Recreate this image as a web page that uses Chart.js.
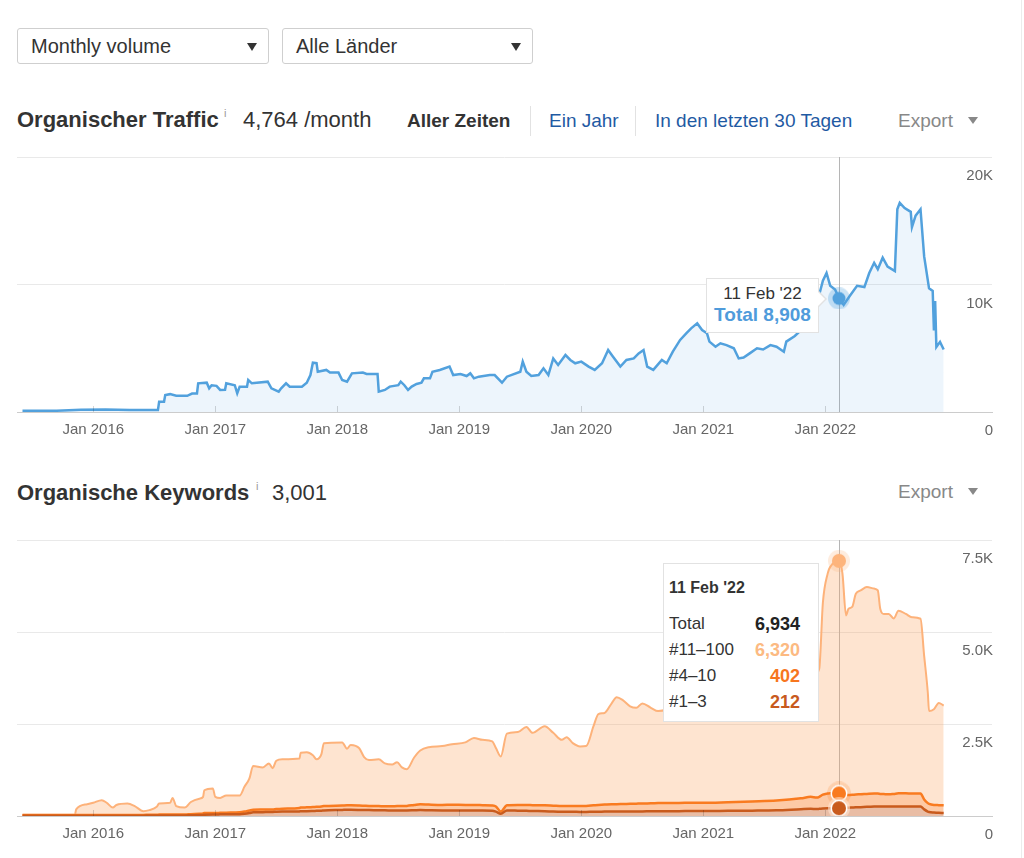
<!DOCTYPE html>
<html lang="de">
<head>
<meta charset="utf-8">
<title>Organischer Traffic / Organische Keywords</title>
<script src="https://cdn.jsdelivr.net/npm/chart.js@4.4.1/dist/chart.umd.min.js"></script>
<style>
	body { margin: 0; background: #fff; font-family: "Liberation Sans", Arial, Helvetica, sans-serif; color: #333; }
	#page { position: relative; width: 1024px; height: 858px; overflow: hidden; background: #fff; }
	.abs { position: absolute; white-space: nowrap; }
	.dd { position: absolute; top: 28px; height: 36px; box-sizing: border-box; border: 1px solid #cfcfcf; border-radius: 3px;
		font-size: 20px; line-height: 35px; padding-left: 13px; color: #333; }
	.dd .arr { position: absolute; right: 11px; top: 14px; width: 0; height: 0;
		border-left: 5.5px solid transparent; border-right: 5.5px solid transparent; border-top: 8px solid #333; }
	.title { font-size: 22px; font-weight: bold; line-height: 26px; color: #333; }
	.big { font-size: 22px; line-height: 26px; color: #333; }
	.info { font-size: 11px; line-height: 12px; color: #999; }
	.tab { font-size: 19px; line-height: 24px; top: 109px; }
	.link { color: #1f5aa3; }
	.sep { position: absolute; top: 106px; width: 1px; height: 30px; background: #e2e2e2; }
	.export { font-size: 19px; line-height: 24px; color: #888; }
	.export .tri { display: inline-block; margin-left: 15px; vertical-align: 3px; width: 0; height: 0;
		border-left: 5px solid transparent; border-right: 5px solid transparent; border-top: 7px solid #888; }
	canvas { position: absolute; left: 0; }
	.edge { position: absolute; left: 1021px; top: 0; width: 1px; height: 858px; background: #ececec; }
	#tip1 { position: absolute; display: none; width: 113px; height: 55px; box-sizing: border-box; background: #fff;
		border: 1px solid #e2e2e2; text-align: center; padding-top: 4px; z-index: 5; }
	#tip1::before { content: ''; position: absolute; right: -9px; top: 11px; border-top: 9px solid transparent;
		border-bottom: 9px solid transparent; border-left: 9px solid #e2e2e2; }
	#tip1::after { content: ''; position: absolute; right: -7px; top: 12px; border-top: 8px solid transparent;
		border-bottom: 8px solid transparent; border-left: 8px solid #fff; }
	#tip1 .t { font-size: 17px; line-height: 22px; color: #333; }
	#tip1 .b { font-size: 19px; line-height: 20px; font-weight: bold; color: #4f9bdb; }
	#tip2 { position: absolute; display: none; width: 156px; height: 159px; box-sizing: border-box; background: #fff;
		border: 1px solid #e2e2e2; padding: 13px 0 0 5px; z-index: 5; }
	#tip2 .t { font-size: 16px; line-height: 22px; font-weight: bold; color: #333; margin-bottom: 12px; }
	#tip2 .row { display: flex; justify-content: space-between; width: 131px; font-size: 17px; line-height: 26px; color: #333; }
	#tip2 .row b { font-size: 18px; }
</style>
</head>
<body>
<div id="page">
	<div class="dd" style="left:17px;width:252px">Monthly volume<span class="arr"></span></div>
	<div class="dd" style="left:282px;width:251px">Alle Länder<span class="arr"></span></div>

	<div class="abs title" style="left:17px;top:107px">Organischer Traffic</div>
	<div class="abs info" style="left:224px;top:107px">i</div>
	<div class="abs big" style="left:243px;top:107px">4,764 /month</div>
	<div class="abs tab" style="left:407px;font-weight:bold;color:#333">Aller Zeiten</div>
	<div class="sep" style="left:530px"></div>
	<div class="abs tab link" style="left:549px">Ein Jahr</div>
	<div class="sep" style="left:635px"></div>
	<div class="abs tab link" style="left:655px">In den letzten 30 Tagen</div>
	<div class="abs export" style="left:898px;top:109px">Export<span class="tri"></span></div>

	<canvas id="trafficChart" width="1024" height="295" style="top:150px"></canvas>

	<div class="abs title" style="left:17px;top:480px">Organische Keywords</div>
	<div class="abs info" style="left:256px;top:480px">i</div>
	<div class="abs big" style="left:272px;top:480px">3,001</div>
	<div class="abs export" style="left:898px;top:480px">Export<span class="tri"></span></div>

	<canvas id="kwChart" width="1024" height="319" style="top:530px"></canvas>

	<div id="tip1"></div>
	<div id="tip2"></div>
	<div class="edge"></div>
</div>

<script>
// dates are decimal years
const yearTicks = [2016, 2017, 2018, 2019, 2020, 2021, 2022]
const yearLabels = ['Jan 2016', 'Jan 2017', 'Jan 2018', 'Jan 2019', 'Jan 2020', 'Jan 2021', 'Jan 2022']
const hoverDate = 2022.112
const hoverLabel = "11 Feb '22"

const trafficDates = [
	2015.42, 2015.70, 2015.90, 2016.10, 2016.30, 2016.53, 2016.54, 2016.58, 2016.59, 2016.63,
	2016.68, 2016.77, 2016.81, 2016.85, 2016.86, 2016.93, 2016.95, 2016.97, 2017.01, 2017.04,
	2017.08, 2017.09, 2017.16, 2017.18, 2017.20, 2017.26, 2017.27, 2017.30, 2017.43, 2017.46,
	2017.52, 2017.54, 2017.58, 2017.61, 2017.71, 2017.75, 2017.78, 2017.80, 2017.83, 2017.84,
	2017.91, 2017.94, 2018.01, 2018.04, 2018.08, 2018.12, 2018.21, 2018.24, 2018.33, 2018.34,
	2018.39, 2018.43, 2018.50, 2018.52, 2018.55, 2018.58, 2018.61, 2018.65, 2018.69, 2018.71,
	2018.76, 2018.78, 2018.84, 2018.92, 2018.95, 2019.01, 2019.06, 2019.09, 2019.12, 2019.16,
	2019.25, 2019.29, 2019.35, 2019.39, 2019.50, 2019.52, 2019.55, 2019.59, 2019.65, 2019.69,
	2019.73, 2019.77, 2019.81, 2019.87, 2019.91, 2019.95, 2020.00, 2020.06, 2020.11, 2020.17,
	2020.22, 2020.26, 2020.32, 2020.37, 2020.43, 2020.47, 2020.51, 2020.54, 2020.59, 2020.66,
	2020.70, 2020.75, 2020.81, 2020.86, 2020.90, 2020.95, 2020.99, 2021.03, 2021.05, 2021.10,
	2021.14, 2021.19, 2021.25, 2021.29, 2021.33, 2021.38, 2021.44, 2021.49, 2021.55, 2021.60,
	2021.66, 2021.68, 2021.75, 2021.82, 2021.90, 2021.95, 2021.98, 2022.01, 2022.04, 2022.08,
	2022.112, 2022.15, 2022.20, 2022.26, 2022.32, 2022.36, 2022.40, 2022.43, 2022.47, 2022.51,
	2022.57, 2022.59, 2022.61, 2022.65, 2022.70, 2022.71, 2022.74, 2022.78, 2022.81, 2022.85,
	2022.88, 2022.89, 2022.90, 2022.91, 2022.94, 2022.97
]
const trafficValues = [
	100, 100, 170, 200, 150, 150, 800, 800, 1330, 1400,
	1270, 1270, 1450, 1450, 2250, 2300, 1860, 2100, 2050, 1730,
	1750, 2250, 2100, 1470, 1990, 1990, 2510, 2250, 2380, 1860,
	1600, 1860, 2250, 1990, 1990, 2300, 2900, 3870, 3840, 3160,
	3300, 3090, 3090, 2510, 2380, 3030, 3090, 2980, 2980, 1600,
	1730, 1990, 2100, 2380, 2100, 1730, 1990, 2200, 2300, 2640,
	2640, 3160, 3300, 3560, 2900, 2980, 2820, 3030, 2640, 2770,
	2900, 2900, 2300, 2770, 3160, 3950, 3160, 2820, 2900, 3430,
	2900, 4200, 3690, 4470, 4080, 3820, 3950, 3560, 3300, 3820,
	4860, 4340, 3560, 4080, 4200, 4600, 4860, 3560, 3300, 4080,
	3820, 4730, 5650, 6170, 6560, 6950, 6430, 6170, 5520, 5120,
	5390, 5250, 5000, 4200, 4270, 4600, 5000, 4900, 5250, 5120,
	4730, 5520, 5960, 6600, 7600, 9200, 10300, 10900, 9900, 9600,
	8908, 8400, 9100, 9900, 9800, 10900, 11700, 11200, 12100, 11400,
	11050, 15900, 16400, 16000, 15700, 14500, 15400, 15900, 12200, 9700,
	9500, 6400, 8700, 5100, 5500, 4900
]

const kwDates = [
	2015.42, 2015.85, 2015.86, 2015.95, 2016.00, 2016.07, 2016.11, 2016.16, 2016.19, 2016.28,
	2016.34, 2016.41, 2016.46, 2016.52, 2016.54, 2016.63, 2016.65, 2016.68, 2016.75, 2016.80,
	2016.87, 2016.90, 2016.91, 2016.98, 2017.00, 2017.04, 2017.09, 2017.20, 2017.24, 2017.28,
	2017.31, 2017.39, 2017.44, 2017.47, 2017.50, 2017.55, 2017.69, 2017.70, 2017.75, 2017.80,
	2017.83, 2017.87, 2017.89, 2018.04, 2018.08, 2018.11, 2018.18, 2018.22, 2018.26, 2018.34,
	2018.39, 2018.45, 2018.49, 2018.53, 2018.57, 2018.63, 2018.68, 2018.75, 2018.86, 2018.94,
	2019.05, 2019.12, 2019.19, 2019.27, 2019.30, 2019.34, 2019.39, 2019.48, 2019.55, 2019.60,
	2019.70, 2019.77, 2019.84, 2019.88, 2019.93, 2019.99, 2020.04, 2020.10, 2020.14, 2020.19,
	2020.25, 2020.29, 2020.34, 2020.40, 2020.45, 2020.50, 2020.57, 2020.63, 2020.70, 2020.80,
	2020.90, 2021.00, 2021.20, 2021.40, 2021.60, 2021.80, 2021.88, 2021.93, 2021.95, 2021.98,
	2022.02, 2022.04, 2022.112, 2022.14, 2022.17, 2022.19, 2022.22, 2022.25, 2022.29, 2022.34,
	2022.40, 2022.43, 2022.45, 2022.48, 2022.52, 2022.56, 2022.60, 2022.66, 2022.71, 2022.78,
	2022.81, 2022.84, 2022.85, 2022.89, 2022.93, 2022.97
]
// positions #1–3
const kwTop3 = [
	10, 10, 10, 10, 10, 10, 10, 10, 10, 10,
	10, 10, 15, 15, 15, 15, 15, 15, 15, 20,
	25, 30, 35, 40, 40, 45, 50, 50, 60, 80,
	100, 105, 110, 110, 115, 120, 125, 130, 130, 135,
	140, 145, 150, 165, 170, 170, 165, 160, 160, 155,
	155, 150, 150, 150, 150, 155, 160, 155, 150, 150,
	150, 150, 150, 145, 120, 60, 150, 145, 140, 135,
	130, 120, 115, 115, 115, 110, 110, 115, 115, 120,
	120, 120, 120, 125, 125, 125, 130, 130, 130, 130,
	135, 135, 140, 145, 155, 185, 195, 190, 195, 205,
	210, 210, 212, 215, 220, 225, 230, 235, 240, 250,
	255, 260, 260, 260, 255, 255, 260, 260, 260, 255,
	180, 120, 110, 95, 85, 80
]
// positions #4–10
const kwTop10 = [
	10, 10, 15, 15, 20, 20, 20, 20, 20, 20,
	20, 20, 20, 20, 25, 25, 25, 25, 25, 30,
	35, 40, 45, 40, 40, 40, 40, 50, 60, 70,
	70, 70, 70, 70, 75, 80, 95, 100, 105, 110,
	110, 115, 120, 120, 120, 120, 120, 120, 115, 115,
	110, 115, 120, 120, 125, 145, 160, 155, 150, 155,
	150, 150, 145, 140, 140, 60, 140, 155, 160, 160,
	160, 160, 155, 160, 160, 160, 165, 175, 185, 190,
	200, 200, 205, 205, 210, 215, 215, 220, 225, 225,
	225, 225, 235, 250, 265, 295, 325, 310, 325, 375,
	400, 410, 402, 385, 360, 345, 345, 350, 350, 350,
	355, 350, 340, 335, 335, 345, 355, 355, 350, 355,
	270, 230, 220, 205, 210, 210
]
// positions #11–100
const kwTop100 = [
	20, 20, 155, 295, 330, 400, 330, 200, 270, 310,
	240, 100, 125, 215, 300, 320, 450, 230, 190, 330,
	410, 450, 620, 670, 440, 405, 470, 460, 680, 870,
	1190, 1145, 1250, 1120, 1310, 1340, 1340, 1490, 1495, 1405,
	1290, 1420, 1710, 1715, 1540, 1640, 1555, 1320, 1245, 1270,
	1165, 1135, 1190, 1050, 995, 1290, 1460, 1560, 1600, 1645,
	1700, 1820, 1775, 1745, 1590, 1500, 1950, 1980, 2120, 1965,
	2150, 1980, 1800, 1865, 1705, 1620, 1625, 2150, 2470, 2490,
	2750, 2910, 2825, 2650, 2605, 2720, 2595, 2500, 2545, 2745,
	2840, 2890, 2925, 2905, 2930, 2970, 3030, 3400, 3480, 5220,
	5990, 6150, 6320, 6000, 4870, 5060, 5105, 5455, 5540, 5620,
	5570, 5520, 5030, 4895, 4900, 4770, 4965, 4875, 4790, 4750,
	3900, 3000, 2520, 2600, 2775, 2710
]

Chart.defaults.font.family = '"Liberation Sans", Arial, Helvetica, sans-serif'
Chart.defaults.font.size = 15
Chart.defaults.color = '#666'

const fmt = v => v.toLocaleString('en-US')

function points(dates, values) {
	return dates.map((d, i) => ({ x: d, y: values[i] }))
}

// dot with an optional white edge and a soft ring, used as the hover point style
function haloDot(color, ring, r, R, edge) {
	const c = document.createElement('canvas')
	c.width = c.height = R * 2
	const g = c.getContext('2d')
	const circle = (rad, fill) => { g.fillStyle = fill; g.beginPath(); g.arc(R, R, rad, 0, Math.PI * 2); g.fill() }
	circle(R, ring)
	if (edge) circle(r + edge, '#fff')
	circle(r, color)
	return c
}

function xAxis() {
	return {
		type: 'linear',
		min: 2015.375,
		max: 2023.366,
		grid: { display: false, drawTicks: false },
		border: { display: true, color: '#cccccc' },
		afterBuildTicks: s => { s.ticks = yearTicks.map(v => ({ value: v })) },
		afterFit: s => { s.height = 33 },
		ticks: {
			padding: 9, maxRotation: 0, autoSkip: false, color: '#666',
			callback: (v, i) => yearLabels[i]
		}
	}
}

function yAxis(max, step, decimals) {
	return {
		position: 'right',
		min: 0,
		max: max,
		grid: { color: c => (c.tick && c.tick.value === 0) ? '#cccccc' : '#e9e9e9', drawTicks: false },
		border: { display: false },
		afterFit: s => { s.width = 0; s.paddingTop = 0; s.paddingBottom = 0 },
		ticks: {
			stepSize: step, mirror: true, padding: 1, labelOffset: 19, color: '#666',
			callback: v => v === 0 ? '0' : (decimals ? (v / 1000).toFixed(1) : v / 1000) + 'K'
		}
	}
}

const crosshair = {
	id: 'crosshair',
	beforeDatasetsDraw(chart) {
		const { ctx, chartArea, scales } = chart
		const px = Math.round(scales.x.getPixelForValue(hoverDate)) + 0.5
		ctx.save()
		ctx.strokeStyle = '#b5b5b5'
		ctx.lineWidth = 1
		ctx.beginPath()
		ctx.moveTo(px, chartArea.top)
		ctx.lineTo(px, chartArea.bottom)
		ctx.stroke()
		ctx.restore()
	}
}

const yearMarks = {
	id: 'yearMarks',
	afterDatasetsDraw(chart) {
		const { ctx, chartArea, scales: { x } } = chart
		ctx.save()
		ctx.strokeStyle = 'rgba(0,0,0,0.16)'
		x.ticks.forEach(t => {
			const px = Math.round(x.getPixelForValue(t.value)) + 0.5
			ctx.beginPath()
			ctx.moveTo(px, chartArea.bottom - 6)
			ctx.lineTo(px, chartArea.bottom)
			ctx.stroke()
		})
		ctx.restore()
	}
}

function trafficTip({ chart, tooltip }) {
	const el = document.getElementById('tip1')
	if (tooltip.opacity === 0) { el.style.display = 'none'; return }
	const p = tooltip.dataPoints[0]
	el.innerHTML = '<div class="t">' + hoverLabel + '</div><div class="b">Total ' + fmt(p.raw.y) + '</div>'
	el.style.display = 'block'
	el.style.left = (chart.canvas.offsetLeft + tooltip.caretX - 20 - el.offsetWidth) + 'px'
	el.style.top = (chart.canvas.offsetTop + tooltip.caretY - 20) + 'px'
}

const kwValueColors = ['#c85a1e', '#f7761e', '#fcba82']

function kwTip({ chart, tooltip }) {
	const el = document.getElementById('tip2')
	if (tooltip.opacity === 0) { el.style.display = 'none'; return }
	const pts = tooltip.dataPoints.slice().sort((a, b) => b.datasetIndex - a.datasetIndex)
	const total = pts.reduce((s, p) => s + p.raw.y, 0)
	const row = (label, v, color) => '<div class="row"><span>' + label + '</span><b style="color:' + color + '">' + fmt(v) + '</b></div>'
	let html = '<div class="t">' + hoverLabel + '</div>' + row('Total', total, '#222')
	pts.forEach(p => { html += row(p.dataset.label, p.raw.y, kwValueColors[p.datasetIndex]) })
	el.innerHTML = html
	el.style.display = 'block'
	el.style.left = (chart.canvas.offsetLeft + tooltip.caretX - 20 - el.offsetWidth) + 'px'
	el.style.top = (chart.canvas.offsetTop + chart.chartArea.top + 23) + 'px'
}

const trafficChart = new Chart(document.getElementById('trafficChart'), {
	type: 'line',
	data: {
		datasets: [{
			label: 'Total',
			data: points(trafficDates, trafficValues),
			borderColor: '#52a1dd',
			borderWidth: 2.5,
			backgroundColor: 'rgba(82,161,221,0.1)',
			fill: 'origin',
			tension: 0,
			pointRadius: 0,
			pointHoverRadius: 8,
			pointStyle: haloDot('#52a1dd', 'rgba(82,161,221,0.3)', 6.5, 11, 0)
		}]
	},
	options: {
		responsive: false,
		animation: false,
		events: [],
		layout: { padding: { left: 17, right: 32, top: 7, bottom: 0 } },
		scales: { x: xAxis(), y: yAxis(20000, 10000, false) },
		plugins: {
			legend: { display: false },
			tooltip: { enabled: false, mode: 'index', intersect: false, external: trafficTip }
		}
	},
	plugins: [crosshair, yearMarks]
})

function kwSet(label, values, color, fillColor, fill, width, dot) {
	return {
		label: label,
		data: points(kwDates, values),
		borderColor: color,
		borderWidth: width,
		backgroundColor: fillColor,
		fill: fill,
		cubicInterpolationMode: 'monotone',
		pointRadius: 0,
		pointHoverRadius: 8,
		pointStyle: dot
	}
}

const kwChart = new Chart(document.getElementById('kwChart'), {
	type: 'line',
	data: {
		datasets: [
			kwSet('#1–3', kwTop3, '#c95b1d', 'rgba(201,91,29,0.4)', 'origin', 2.5, haloDot('#c95b1d', 'rgba(255,228,210,0.6)', 7, 11, 1.5)),
			kwSet('#4–10', kwTop10, '#f97b20', 'rgba(249,123,32,0.4)', '-1', 2.5, haloDot('#f97b20', 'rgba(249,123,32,0.2)', 7, 12, 1.5)),
			kwSet('#11–100', kwTop100, '#fdb27a', 'rgba(253,165,100,0.3)', '-1', 2, haloDot('#fdb47c', 'rgba(253,180,124,0.25)', 7, 11, 0))
		]
	},
	options: {
		responsive: false,
		animation: false,
		events: [],
		layout: { padding: { left: 17, right: 32, top: 10, bottom: 0 } },
		scales: { x: xAxis(), y: Object.assign(yAxis(7500, 2500, true), { stacked: true }) },
		plugins: {
			legend: { display: false },
			tooltip: { enabled: false, mode: 'index', intersect: false, external: kwTip }
		}
	},
	plugins: [crosshair, yearMarks]
})

// show the state for 11 Feb '22 in both charts
const ti = trafficDates.indexOf(hoverDate)
const trafficActive = [{ datasetIndex: 0, index: ti }]
trafficChart.tooltip.setActiveElements(trafficActive, { x: 0, y: 0 })
trafficChart.setActiveElements(trafficActive)
trafficChart.update()

const ki = kwDates.indexOf(hoverDate)
const kwActive = [0, 1, 2].map(d => ({ datasetIndex: d, index: ki }))
kwChart.tooltip.setActiveElements(kwActive, { x: 0, y: 0 })
kwChart.setActiveElements(kwActive)
kwChart.update()
</script>
</body>
</html>
